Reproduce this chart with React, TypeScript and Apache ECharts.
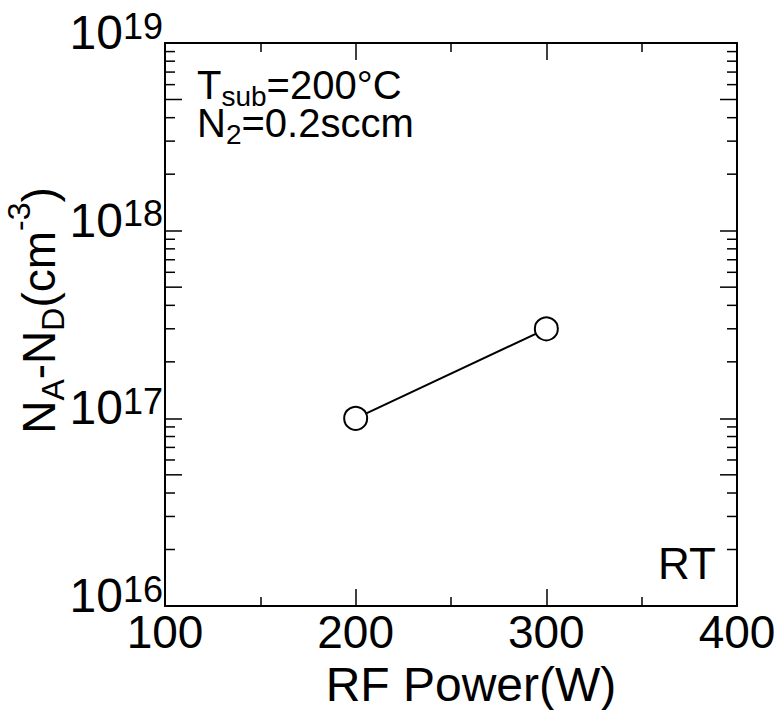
import React, { useEffect, useRef } from 'react';
import * as echarts from 'echarts';

// ---- data ----
const rfPower = [200, 300];
const carrierConc = [1e17, 3e17];
const xMin = 100;
const xMax = 400;
const xInterval = 100;
const yMin = 1e16;
const yMax = 1e19;
const decades = [1e16, 1e17, 1e18];
const minorMultipliers = [2, 3, 4, 5, 6, 7, 8, 9];
const yTitle = '{n|N}{sb|A}{n|-N}{sb|D}{n|(cm}{sp|-3}{n|)}';
const xTitle = 'RF Power(W)';
const noteLines = ['{n|T}{s|sub}{n|=200°C}', '{n|N}{s|2}{n|=0.2sccm}'];
const note3 = 'RT';

const FONT = '"Liberation Sans", Arial, Helvetica, sans-serif';
const BLACK = '#000';

const minorTickData = decades.flatMap((d) => minorMultipliers.map((m) => [xMin, m * d, m]));

export default function App() {
  const ref = useRef<HTMLDivElement>(null);
  useEffect(() => {
    if (!ref.current) return;
    const chart = echarts.init(ref.current, null, { renderer: 'svg' });

    const tickLine = { color: BLACK, width: 1.5 };
    const axisLine = { show: true, onZero: false, lineStyle: { color: BLACK, width: 2 } };

    const xBase = {
      type: 'value',
      min: xMin,
      max: xMax,
      interval: xInterval,
      axisLine,
      axisTick: { show: true, inside: true, length: 17, lineStyle: tickLine },
      minorTick: { show: true, splitNumber: 2, length: 9, lineStyle: tickLine },
      splitLine: { show: false },
      minorSplitLine: { show: false },
    };
    const yBase = {
      type: 'log',
      logBase: 10,
      min: yMin,
      max: yMax,
      axisLine,
      axisTick: { show: true, inside: true, length: 17, lineStyle: tickLine },
      minorTick: { show: false },
      splitLine: { show: false },
      minorSplitLine: { show: false },
    };

    const tok = (fontSize: number, lineHeight: number, padTop: number) => ({
      fontSize,
      lineHeight,
      verticalAlign: 'top',
      padding: [padTop, 0, 0, 0],
      fontFamily: FONT,
      color: BLACK,
    });

    const noteRich = {
      n: tok(40, 38, 1),
      s: tok(28, 38, 18),
    };

    const option: any = {
      animation: false,
      textStyle: { fontFamily: FONT, color: BLACK },
      grid: {
        left: 165,
        right: 41,
        top: 43,
        bottom: 104,
        containLabel: false,
        outerBoundsMode: 'none',
      },
      xAxis: [
        {
          ...xBase,
          position: 'bottom',
          axisLabel: { fontSize: 46, color: BLACK, margin: 3, fontFamily: FONT },
          name: xTitle,
          nameLocation: 'middle',
          nameGap: 54,
          nameMoveOverlap: false,
          nameTextStyle: { fontSize: 48, color: BLACK, fontFamily: FONT, padding: [0, 0, 0, 40] },
        },
        { ...xBase, position: 'top', axisLabel: { show: false } },
      ],
      yAxis: [
        {
          ...yBase,
          position: 'left',
          axisLabel: {
            margin: 2,
            formatter: (v: number) => `{b|10}{s|${Math.round(Math.log10(v))}}`,
            rich: {
              b: tok(48, 70, 0.5),
              s: tok(36, 70, 0),
            },
          },
          name: yTitle,
          nameLocation: 'middle',
          nameRotate: 90,
          nameGap: 96,
          nameMoveOverlap: false,
          nameTextStyle: {
            padding: [0, 0, 0, 28],
            rich: {
              n: tok(46, 66, 13),
              sb: tok(32, 66, 34),
              sp: tok(32, 66, 0),
            },
          },
        },
        { ...yBase, position: 'right', axisLabel: { show: false } },
      ],
      series: [
        {
          type: 'custom',
          xAxisIndex: 0,
          yAxisIndex: 0,
          silent: true,
          z: 3,
          encode: { x: 0, y: 1 },
          data: minorTickData,
          renderItem: (_params: any, api: any) => {
            const v = api.value(1);
            const m = api.value(2);
            const len = m === 5 ? 17 : 10;
            const pl = api.coord([xMin, v]);
            const pr = api.coord([xMax, v]);
            const style = { stroke: BLACK, lineWidth: 1.5 };
            return {
              type: 'group',
              children: [
                { type: 'line', shape: { x1: pl[0], y1: pl[1], x2: pl[0] + len, y2: pl[1] }, style },
                { type: 'line', shape: { x1: pr[0] - len, y1: pr[1], x2: pr[0], y2: pr[1] }, style },
              ],
            };
          },
        },
        {
          type: 'line',
          xAxisIndex: 0,
          yAxisIndex: 0,
          z: 5,
          data: rfPower.map((x, i) => [x, carrierConc[i]]),
          symbol: 'circle',
          symbolSize: 23,
          itemStyle: { color: '#fff', borderColor: BLACK, borderWidth: 2 },
          lineStyle: { color: BLACK, width: 2 },
        },
      ],
      graphic: [
        {
          type: 'text',
          left: 197,
          top: 64,
          style: { text: noteLines.join('\n'), rich: noteRich, fill: BLACK },
        },
        {
          type: 'text',
          left: 658,
          top: 541,
          style: { text: note3, fontSize: 44, fontFamily: FONT, fill: BLACK },
        },
      ],
    };
    chart.setOption(option);
    return () => chart.dispose();
  }, []);

  return (
    <div
      ref={ref}
      style={{ position: 'fixed', left: 0, top: 0, width: 778, height: 710, background: '#fff' }}
    />
  );
}
